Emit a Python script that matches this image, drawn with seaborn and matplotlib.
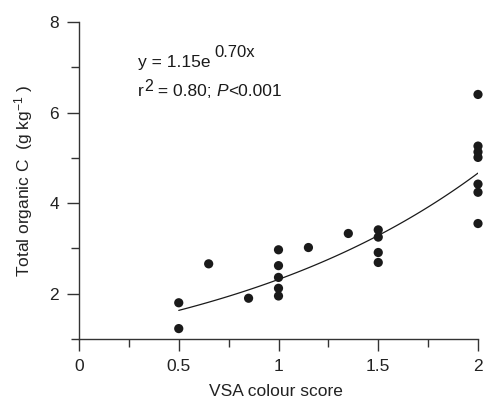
import numpy as np
import pandas as pd
import seaborn as sns
import matplotlib
matplotlib.use("Agg")
import matplotlib.pyplot as plt
from matplotlib.ticker import MultipleLocator

# ---- data ----
vsa_score = [0.5, 0.5, 0.65, 0.85,
             1.0, 1.0, 1.0, 1.0, 1.0,
             1.15, 1.35,
             1.5, 1.5, 1.5, 1.5,
             2.0, 2.0, 2.0, 2.0, 2.0, 2.0, 2.0]
toc = [1.80, 1.23, 2.66, 1.90,
       2.97, 2.62, 2.36, 2.12, 1.95,
       3.02, 3.33,
       3.41, 3.25, 2.91, 2.69,
       6.40, 5.26, 5.13, 5.01, 4.42, 4.24, 3.55]
x_ticks = [0, 0.5, 1, 1.5, 2]
x_tick_labels = ["0", "0.5", "1", "1.5", "2"]
y_ticks = [2, 4, 6, 8]
y_tick_labels = ["2", "4", "6", "8"]
fit_a = 1.15
fit_b = 0.70
fit_range = [0.5, 2.0]

df = pd.DataFrame({"VSA colour score": vsa_score, "TOC": toc})
xf = np.linspace(fit_range[0], fit_range[1], 100)
fit_df = pd.DataFrame({"x": xf, "y": fit_a * np.exp(fit_b * xf)})

sns.set_theme(style="ticks")
plt.rcParams["font.family"] = ["Liberation Sans", "DejaVu Sans"]
plt.rcParams["mathtext.fontset"] = "custom"
plt.rcParams["mathtext.rm"] = "Liberation Sans"
plt.rcParams["mathtext.it"] = "Liberation Sans:italic"

W, H = 484, 400
FS = 12.5
fig = plt.figure(figsize=(W / 100, H / 100), dpi=100)
L, R, T, B = 79, 478, 22, 339
ax = fig.add_axes([L / W, 1 - B / H, (R - L) / W, (B - T) / H])

sns.lineplot(data=fit_df, x="x", y="y", ax=ax, color="#1a1a1a", lw=0.9)
sns.scatterplot(data=df, x="VSA colour score", y="TOC", ax=ax, s=44,
                color="#1a1a1a", edgecolor="none", clip_on=False, zorder=3)

ax.set_xlim(0, 2)
ax.set_ylim(1, 8)
ax.set_xticks(x_ticks, x_tick_labels)
ax.set_yticks(y_ticks, y_tick_labels)
ax.xaxis.set_minor_locator(MultipleLocator(0.25))
ax.yaxis.set_minor_locator(MultipleLocator(1))

for s in ["top", "right"]:
    ax.spines[s].set_visible(False)
for s in ["left", "bottom"]:
    ax.spines[s].set_color("#333333")
    ax.spines[s].set_linewidth(1.0)
ax.tick_params(which="major", length=8.5, width=1.0, color="#333333",
               labelsize=FS, labelcolor="#222222", pad=6)
ax.tick_params(which="minor", length=5.5, width=1.0, color="#333333")

ax.set_xlabel("VSA colour score", fontsize=FS, color="#222222")
ax.set_ylabel(r"Total organic C  (g kg$^{-1}$ )", fontsize=FS, color="#222222")
ax.xaxis.set_label_coords((276 - L) / (R - L), (B - 396) / (B - T))
ax.xaxis.label.set_va("baseline")
ax.yaxis.set_label_coords((24 - L) / (R - L), 0.5)
ax.yaxis.label.set_va("center")

# ---- annotation texts placed sequentially ----
fig.canvas.draw()
renderer = fig.canvas.get_renderer()

def put(px, py, s, size, style="normal"):
    t = fig.text(px / W, 1 - py / H, s, fontsize=size, style=style,
                 va="baseline", ha="left", color="#1a1a1a")
    bb = t.get_window_extent(renderer=renderer)
    return px + bb.width

x0 = 138
xe = put(x0, 67, "y = 1.15e", FS)
put(xe + 4, 57, "0.70x", 12)

xe = put(x0, 96, "r", FS)
xe = put(xe + 0.5, 91, "2", 11.5)
xe = put(xe, 96, " = 0.80; ", FS)
xe = put(xe, 96, "P", FS, style="italic")
put(xe, 96, "<0.001", FS)

fig.savefig("out.png", dpi=100)
